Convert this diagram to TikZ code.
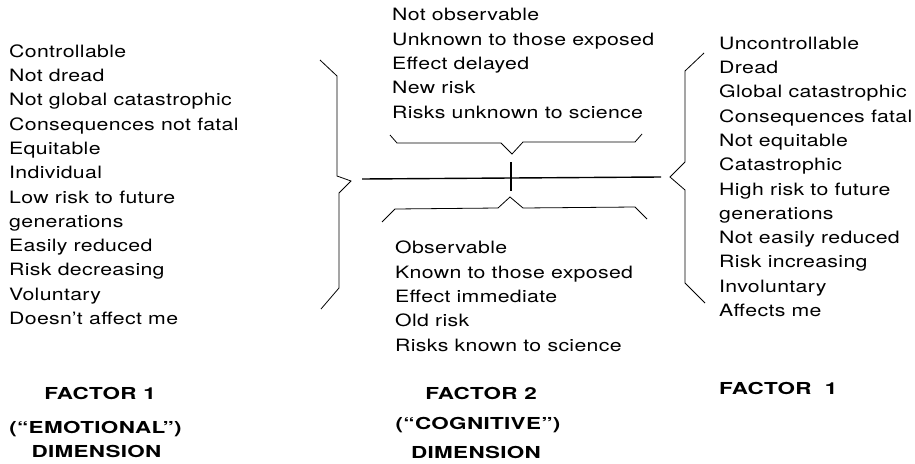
\documentclass[tikz,border=0pt]{standalone}
\usepackage{fontspec}
\setmainfont{TeX Gyre Heros}[FakeStretch=1.25, LetterSpace=2]
\newfontfamily\labelfont{TeX Gyre Heros}[FakeStretch=1.36, LetterSpace=2]
\begin{document}
\begin{tikzpicture}[x=1pt, y=-1pt,
  col/.style={anchor=base west, align=left, inner sep=0pt,
    font=\fontsize{17}{24.3}\selectfont},
  lab/.style={anchor=base, inner sep=0pt,
    font=\labelfont\fontsize{16.5}{20}\selectfont\bfseries},
  brace/.style={line width=0.8pt, line join=miter},
  axis/.style={line width=1.4pt}]
\useasboundingbox (0,0) rectangle (915,463);

% left list (emotional dimension, low end); anchored at its last baseline
\node[col] (lowlist) at (9,324.5) {Controllable\\Not dread\\Not global catastrophic\\Consequences not fatal\\Equitable\\Individual\\Low risk to future\\generations\\Easily reduced\\Risk decreasing\\Voluntary\\Doesn’t affect me};

% right list (emotional dimension, high end)
\node[col] (highlist) at (719,316.5) {Uncontrollable\\Dread\\Global catastrophic\\Consequences fatal\\Not equitable\\Catastrophic\\High risk to future\\generations\\Not easily reduced\\Risk increasing\\Involuntary\\Affects me};

% middle lists (cognitive dimension)
\node[col] (toplist) at (392,118) {Not observable\\Unknown to those exposed\\Effect delayed\\New risk\\Risks unknown to science};
\node[col] (botlist) at (395,351) {Observable\\Known to those exposed\\Effect immediate\\Old risk\\Risks known to science};

% factor labels
\node[lab] (f1a) at (100,399) {FACTOR 1};
\node[lab] (f1b) at (95.5,433) {(“EMOTIONAL”)};
\node[lab] (f1c) at (96.5,457) {DIMENSION};
\node[lab] (f2a) at (481,399) {FACTOR 2};
\node[lab] (f2b) at (478,429) {(“COGNITIVE”)};
\node[lab] (f2c) at (476,458) {DIMENSION};
\node[lab, anchor=base west] (f1r) at (719,394) {FACTOR\ \ 1};

% axes
\draw[axis] (362,179) -- (661,177);
\draw[axis] (511,162) -- (511,191);

% left brace
\draw[brace] (320,60) -- (337,76) -- (337,176) -- (351,181) -- (339,193) -- (339,288) -- (321,309);
% right brace
\draw[brace] (704,53) -- (685,71) -- (685,162) -- (670,177) -- (685,190) -- (685,283) -- (705,303);
% upper horizontal brace
\draw[brace] (390,135) -- (397,143) -- (501,143) -- (512,154) -- (523,142) -- (635,142) -- (642,134);
% lower horizontal brace
\draw[brace] (382,222) -- (395,209) -- (498,208) -- (510,197) -- (523,208) -- (635,207) -- (647,219);
\end{tikzpicture}
\end{document}
